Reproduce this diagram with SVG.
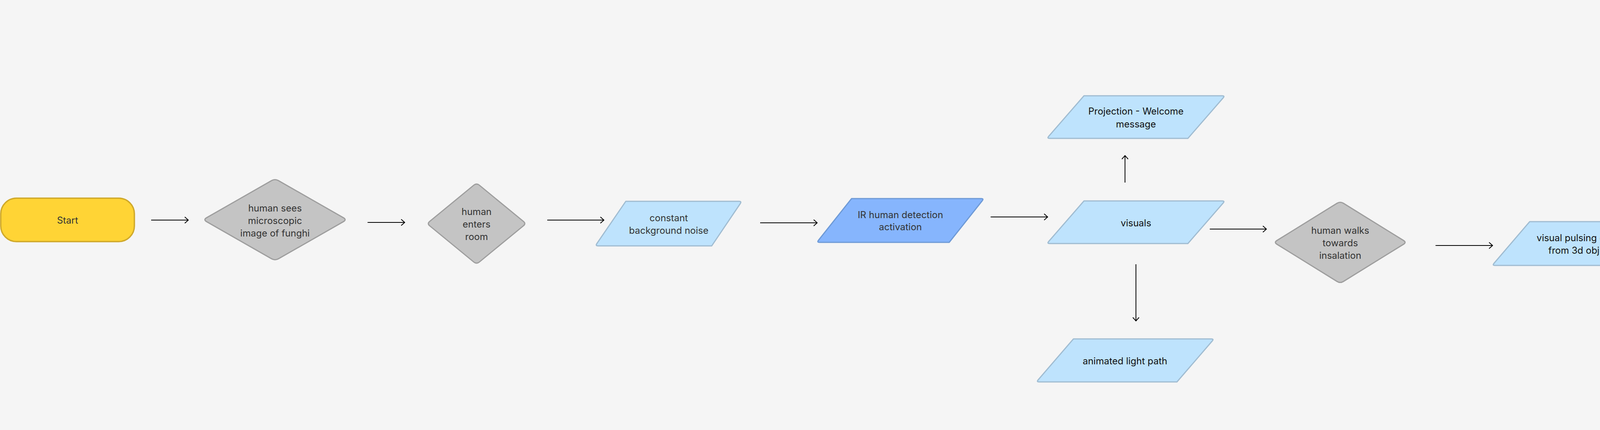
<svg xmlns="http://www.w3.org/2000/svg" width="7139" height="1100" viewBox="0 0 7139 1100">
<style>
.t{font-family:Inter,"Noto Sans","Liberation Sans",sans-serif;font-size:24px;text-anchor:middle;dominant-baseline:central;fill:#333}
.k{fill:#111}
.lb{fill:#BEE3FD;stroke:#A0BCD1;stroke-width:3;stroke-linejoin:round}
.db{fill:#86B5FD;stroke:#6E9AD6;stroke-width:3;stroke-linejoin:round}
.gd{fill:#C4C4C4;stroke:#9E9E9E;stroke-width:3;stroke-linejoin:round}
.c{fill:none;stroke:#000;stroke-width:2}
.cb{fill:none;stroke:#000;stroke-width:2.5;stroke-linejoin:round}
.cr{fill:none;stroke:#FF9B94;stroke-width:2.5}
.cg{fill:none;stroke:#4FD072;stroke-width:2.5}
.lbl{font-family:Inter,"Noto Sans","Liberation Sans",sans-serif;font-size:16px;text-anchor:middle;dominant-baseline:central;fill:#333}
</style>
<defs>
<marker id="ah" markerWidth="14" markerHeight="20" refX="10" refY="9" orient="auto" markerUnits="userSpaceOnUse" overflow="visible"><path d="M1,1 L10,9 L1,17" fill="none" stroke="#000" stroke-width="2"/></marker>
<marker id="ar" markerWidth="16" markerHeight="16" refX="14" refY="8" orient="auto" markerUnits="userSpaceOnUse" overflow="visible"><path d="M0,0 L14,8 L0,16 Z" fill="#FF9B94"/></marker>
<marker id="ag" markerWidth="16" markerHeight="16" refX="14" refY="8" orient="auto" markerUnits="userSpaceOnUse" overflow="visible"><path d="M0,0 L14,8 L0,16 Z" fill="#4FD072"/></marker>
</defs>
<rect x="0" y="0" width="7139" height="1100" fill="#F5F5F5"/>

<g id="connectors">
<path class="c" d="M387,563 H482" marker-end="url(#ah)"/>
<path class="c" d="M941,569 H1036" marker-end="url(#ah)"/>
<path class="c" d="M1401,563 H1546" marker-end="url(#ah)"/>
<path class="c" d="M1946,570 H2092" marker-end="url(#ah)"/>
<path class="c" d="M2536,555 H2682" marker-end="url(#ah)"/>
<path class="c" d="M2880,467 V398" marker-end="url(#ah)"/>
<path class="c" d="M2908,676 V821" marker-end="url(#ah)"/>
<path class="c" d="M3097,586 H3242" marker-end="url(#ah)"/>
<path class="c" d="M3675,628 H3821" marker-end="url(#ah)"/>
<path class="c" d="M4328,628 H4475" marker-end="url(#ah)"/>
<path class="c" d="M4982,618 H5128" marker-end="url(#ah)"/>
<path class="cb" d="M5566,618 H5638 Q5660,618 5660,596 V396 Q5660,374 5682,374 H5798" marker-end="url(#ah)"/>
<path class="cb" d="M5638,618 Q5658,618 5658,638 V844 Q5658,866 5680,866 H5765" marker-end="url(#ah)"/>
<path class="cb" d="M6168,374 H6290 Q6314,374 6314,398 V842 Q6314,866 6290,866 H6134"/>
<path class="cb" d="M6314,561 H6351"/>
<text class="t" x="6480" y="562" style="font-size:20px;text-anchor:middle">human decides to touch?</text>
<path class="c" d="M6608,562 H6647" marker-end="url(#ah)"/>
<path class="cg" d="M6670,562 Q6689,562 6689,581 V1055 Q6689,1079 6665,1079 H4755 Q4731,1079 4731,1055 V777" marker-end="url(#ag)"/>
<path class="cr" d="M6647,562 H6670 Q6694,562 6694,538 V99 Q6694,75 6718,75 H6943 Q6967,75 6967,99 V508" marker-end="url(#ar)"/>
<rect x="6812" y="55" width="37" height="39" rx="3" fill="#FF9A92"/>
<text class="lbl" x="6830.5" y="75">No</text>
<rect x="5688" y="1060" width="44" height="39" rx="3" fill="#92E594"/>
<text class="lbl" x="5710" y="1080">Yes</text>
</g>

<g id="start">
<rect x="2" y="507" width="342" height="111" rx="40" fill="#FFD435" stroke="#D0A92A" stroke-width="3.5"/>
<text class="t" x="173" y="563">Start</text>
</g>

<g id="sees-funghi">
<path class="gd" d="M529,556.9 L695,462.1 Q704,457 713,462.1 L879,556.9 Q888,562 879,567.1 L713,661.9 Q704,667 695,661.9 L529,567.1 Q520,562 529,556.9 Z"/>
<text class="t" x="704" y="532">human sees</text>
<text class="t" x="704" y="564">microscopic</text>
<text class="t" x="704" y="596">image of funghi</text>
</g>

<g id="enters-room">
<path class="gd" d="M1100,566.3 L1213,473.7 Q1220,468 1227,473.7 L1340,566.3 Q1347,572 1340,577.7 L1227,670.3 Q1220,676 1213,670.3 L1100,577.7 Q1093,572 1100,566.3 Z"/>
<text class="t" x="1220" y="541">human</text>
<text class="t" x="1220" y="573">enters</text>
<text class="t" x="1220" y="605">room</text>
</g>

<g id="background-noise">
<path class="lb" d="M1602,515 H1892 Q1899,515 1895.1,520.8 L1822,629 H1531 Q1524,629 1527.9,623.2 Z"/>
<text class="t" x="1712" y="557">constant</text>
<text class="t" x="1712" y="589">background noise</text>
</g>

<g id="ir-detection">
<path class="db" d="M2180,508 H2512 Q2519,508 2514.6,513.5 L2430,620 H2098 Q2091,620 2095.4,614.5 Z"/>
<text class="t" x="2305" y="549">IR human detection</text>
<text class="t" x="2305" y="580">activation</text>
</g>

<g id="projection">
<path class="lb" d="M2775,245 H3129 Q3136,245 3131.4,250.3 L3041,354 H2687 Q2680,354 2684.6,348.7 Z"/>
<text class="t k" x="2908" y="284">Projection - Welcome</text>
<text class="t k" x="2908" y="317">message</text>
</g>

<g id="visuals">
<path class="lb" d="M2775,514 H3129 Q3136,514 3131.4,519.3 L3041,623 H2687 Q2680,623 2684.6,617.7 Z"/>
<text class="t k" x="2908" y="570">visuals</text>
</g>

<g id="light-path">
<path class="lb" d="M2748,867 H3101 Q3108,867 3103.4,872.3 L3013,977 H2660 Q2653,977 2657.6,971.7 Z"/>
<text class="t k" x="2880" y="923">animated light path</text>
</g>

<g id="walks-towards">
<path class="gd" d="M3269,615.1 L3423,519.9 Q3431,515 3439,519.9 L3593,615.1 Q3601,620 3593,624.9 L3439,720.1 Q3431,725 3423,720.1 L3269,624.9 Q3261,620 3269,615.1 Z"/>
<text class="t" x="3431" y="589">human walks</text>
<text class="t" x="3431" y="621">towards</text>
<text class="t" x="3431" y="653">insalation</text>
</g>

<g id="pulsing">
<path class="lb" d="M3916,567 H4266 Q4273,567 4268.5,572.3 L4180,679 H3827 Q3820,679 3824.5,673.7 Z"/>
<text class="t k" x="4047" y="608">visual pulsing effect</text>
<text class="t k" x="4047" y="640">from 3d object</text>
</g>

<g id="hand-approaches">
<path class="gd" d="M4538,601.3 L4722,505.7 Q4731,501 4740,505.7 L4924,601.3 Q4933,606 4924,610.7 L4740,706.3 Q4731,711 4722,706.3 L4538,610.7 Q4529,606 4538,601.3 Z"/>
<text class="t k" x="4731" y="592">hand approaches</text>
<text class="t k" x="4731" y="623">3D object</text>
</g>

<g id="touch-sensor">
<path class="db" d="M5267,562 H5597 Q5604,562 5599.6,567.5 L5515,674 H5185 Q5178,674 5182.4,668.5 Z"/>
<text class="t" x="5391" y="602">touch sensor</text>
<text class="t" x="5391" y="635">activation</text>
</g>

<g id="led">
<path class="lb" d="M5850,318 H6203 Q6210,318 6205.5,323.4 L6116,430 H5763 Q5756,430 5760.5,424.6 Z"/>
<text class="t k" x="5983" y="375">LED lights activation</text>
</g>

<g id="sound">
<path class="lb" d="M5817,810 H6169 Q6176,810 6171.5,815.4 L6081,922 H5729 Q5722,922 5726.5,916.6 Z"/>
<text class="t k" x="5949" y="867">sound activation</text>
</g>

<g id="end">
<rect x="6794" y="517" width="343" height="110" rx="40" fill="#FF958F" stroke="#C97670" stroke-width="3.5"/>
<text class="t" x="6966" y="572">End</text>
</g>
</svg>
